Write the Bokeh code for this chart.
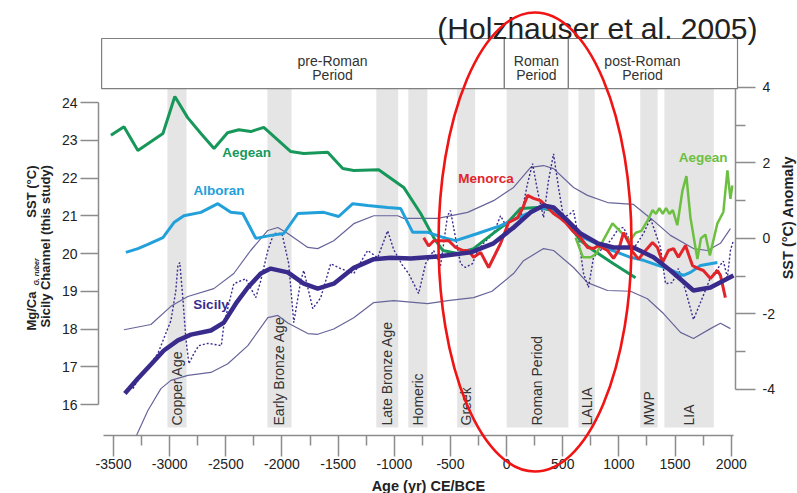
from bokeh.plotting import figure
from bokeh.models import Range1d, LinearAxis, FixedTicker
from bokeh.core.properties import value
from bokeh.embed import file_html
from bokeh.resources import INLINE

# ---------------- data ----------------
x_ticks = [-3500, -3000, -2500, -2000, -1500, -1000, -500, 0, 500, 1000, 1500, 2000]
x_minor = [-3250, -2750, -2250, -1750, -1250, -750, -250, 250, 750, 1250, 1750]
left_ticks = [16, 17, 18, 19, 20, 21, 22, 23, 24]
right_ticks = [-4, -2, 0, 2, 4]
right_minor = [-3, -1, 1, 3]
ANOM_OFFSET = 20.4  # SST anomaly 0 == 20.4 degC on the left scale

period_names = ["Copper Age", "Early Bronze Age", "Late Bronze Age", "Homeric", "Greek",
                "Roman Period", "LALIA", "MWP", "LIA"]
period_start = [-3020, -2130, -1160, -875, -440, 0, 640, 1190, 1405]
period_end = [-2850, -1915, -965, -705, -280, 550, 785, 1345, 1845]

era_names = [["pre-Roman", "Period"], ["Roman", "Period"], ["post-Roman", "Period"]]
era_edges = [-3606, -20, 550, 2056]
era_text_x = [-1550, 265, 1210]

aegean_x = [-3523, -3407, -3283, -3060, -2954, -2840, -2722, -2605, -2485, -2384, -2278, -2162,
            -1922, -1806, -1593, -1459, -1361, -1139, -916, -765, -649, -569, -436, -294, -143,
            9, 124, 276, 418, 543, 658, 774, 952, 1148]
aegean_t = [23.13, 23.36, 22.73, 23.18, 24.16, 23.60, 23.18, 22.78, 23.20, 23.28, 23.23, 23.34,
            22.70, 22.65, 22.68, 22.25, 22.20, 22.22, 21.75, 21.06, 20.42, 20.08, 20.00, 20.13, 20.48,
            20.82, 21.19, 21.22, 21.14, 20.80, 20.34, 20.08, 19.73, 19.36]

alboran_x = [-3390, -3283, -3194, -3060, -2962, -2874, -2722, -2571, -2456, -2349, -2233, -2100,
             -1984, -1859, -1628, -1495, -1370, -1237, -1059, -943, -836, -703, -560, -454, -258,
             -53, 187, 276, 400, 543, 685, 899, 1103, 1219, 1432, 1575, 1637, 1726, 1877]
alboran_t = [20.03, 20.13, 20.24, 20.42, 20.82, 21.00, 21.09, 21.32, 21.09, 21.06, 20.40, 20.48,
             20.53, 21.06, 21.09, 20.98, 21.32, 21.27, 21.22, 21.19, 20.56, 20.56, 20.42, 20.34, 20.53,
             20.74, 21.06, 21.20, 21.20, 20.85, 20.42, 20.13, 19.90, 19.82, 19.60, 19.42, 19.50, 19.68, 19.76]

menorca_x = [-738, -694, -649, -569, -516, -454, -392, -340, -294, -231, -160, -98, -53, 18, 98,
             142, 187, 240, 302, 365, 418, 480, 525, 587, 658, 720, 774, 818, 899, 952, 996, 1041,
             1085, 1121, 1174, 1237, 1299, 1343, 1388, 1441, 1486, 1530, 1593, 1655, 1708, 1752,
             1815, 1877, 1904, 1948]
menorca_t = [20.42, 20.20, 20.34, 20.34, 20.34, 20.16, 20.08, 20.08, 19.90, 20.03, 19.63, 20.00,
             20.27, 20.82, 20.95, 21.19, 21.54, 21.46, 21.40, 21.22, 21.06, 20.93, 20.82, 20.60,
             20.42, 20.16, 20.13, 20.21, 20.08, 19.87, 20.08, 20.55, 20.30, 20.05, 19.85, 20.08,
             20.29, 20.16, 19.76, 20.08, 20.13, 19.90, 20.21, 19.68, 19.60, 19.55, 19.34, 19.55,
             19.42, 18.83]

aegean2_x = [614, 680, 750, 800, 870, 943, 990, 1040, 1100, 1150, 1200, 1260, 1300, 1330, 1360,
             1390, 1420, 1450, 1480, 1520, 1566, 1601, 1637, 1699, 1730, 1770, 1810, 1877, 1930,
             1966, 1993, 2010]
aegean2_t = [20.42, 19.90, 19.90, 20.00, 20.40, 20.80, 20.65, 20.50, 20.35, 20.55, 20.60, 20.90,
             21.15, 21.05, 21.20, 21.05, 21.20, 21.05, 21.15, 20.75, 21.67, 22.05, 20.95, 19.85,
             20.40, 20.50, 19.95, 20.80, 21.10, 22.20, 21.45, 21.80]

sicily_x = [-3399, -3283, -3167, -3052, -2927, -2811, -2633, -2518, -2400, -2304, -2189, -2100,
            -1948, -1806, -1682, -1539, -1361, -1183, -1032, -854, -614, -320, -116, 62, 214, 329,
            418, 543, 658, 810, 952, 1130, 1308, 1459, 1664, 1815, 2020]
sicily_t = [16.29, 16.69, 17.06, 17.43, 17.70, 17.85, 17.96, 18.17, 18.72, 19.10, 19.47, 19.60,
            19.50, 19.20, 19.07, 19.20, 19.62, 19.85, 19.89, 19.87, 19.92, 20.03, 20.27, 20.69,
            21.09, 21.27, 21.22, 20.87, 20.53, 20.27, 20.16, 20.16, 19.90, 19.55, 19.02, 19.10, 19.42]

raw_x = [-3327, -3283, -3194, -3105, -3052, -2989, -2945, -2927, -2910, -2883, -2856, -2829,
         -2785, -2740, -2660, -2540, -2518, -2473, -2429, -2322, -2233, -2189, -2126, -2073,
         -2000, -1940, -1895, -1833, -1806, -1726, -1655, -1566, -1477, -1361, -1237, -1148,
         -1059, -1005, -930, -872, -783, -721, -650, -588, -526, -500, -455, -410, -366, -304,
         -259, -206, -117, -54, 8, 61, 124, 186, 231, 275, 329, 373, 418, 462, 507, 569, 596,
         640, 685, 729, 774, 836, 925, 996, 1041, 1085, 1121, 1219, 1281, 1370, 1415, 1477,
         1530, 1593, 1664, 1744, 1815, 1886, 1930, 1966, 1993, 2020]
raw_t = [16.42, 16.64, 16.98, 17.35, 17.75, 18.22, 19.02, 19.68, 19.76, 18.83, 17.75, 17.08,
         17.35, 17.56, 17.62, 17.56, 18.10, 18.67, 19.20, 19.33, 18.83, 19.28, 20.08, 20.53,
         20.53, 19.73, 18.17, 19.28, 19.55, 18.54, 18.83, 19.73, 19.60, 19.47, 20.08, 19.89,
         20.60, 20.10, 19.70, 19.47, 18.94, 19.73, 20.08, 19.68, 21.00, 21.14, 20.42, 19.73,
         19.63, 19.73, 20.08, 20.27, 20.53, 21.00, 20.66, 20.61, 20.93, 21.85, 22.38, 21.67,
         20.95, 21.93, 22.64, 21.75, 20.95, 21.06, 21.14, 20.42, 19.47, 19.10, 19.90, 20.08,
         20.34, 20.66, 20.69, 20.42, 20.08, 20.53, 20.93, 20.16, 19.20, 19.23, 19.60, 19.02,
         18.25, 18.83, 19.36, 19.63, 19.80, 19.36, 20.08, 20.35]

upper_x = [-3407, -3167, -2989, -2838, -2607, -2429, -2279, -2126, -2037, -1948, -1770, -1682,
           -1539, -1361, -1183, -970, -916, -614, -347, -116, 62, 214, 329, 418, 596, 720, 899,
           1130, 1308, 1459, 1664, 1788, 1904, 1993]
upper_t = [17.98, 18.12, 18.60, 18.86, 19.07, 19.47, 20.08, 20.61, 20.69, 20.53, 20.16, 20.13,
           20.34, 20.79, 21.00, 21.00, 20.93, 20.93, 21.09, 21.40, 21.75, 22.28, 22.33, 22.25,
           21.75, 21.54, 21.35, 21.30, 20.87, 20.48, 20.13, 20.08, 20.27, 20.66]

lower_x = [-3300, -3194, -3078, -2989, -2838, -2633, -2482, -2304, -2126, -2037, -1948, -1770,
           -1682, -1539, -1361, -1183, -1005, -703, -525, -294, -130, 62, 151, 329, 418, 596,
           720, 899, 1103, 1254, 1397, 1548, 1664, 1815, 1904, 1993]
lower_t = [15.15, 15.84, 16.42, 16.64, 16.77, 16.85, 17.08, 17.56, 18.30, 18.36, 18.16, 17.88,
           17.86, 18.00, 18.30, 18.70, 18.75, 18.67, 18.75, 18.83, 19.00, 19.47, 19.81, 20.13,
           20.08, 19.63, 19.23, 19.02, 19.00, 18.80, 18.41, 17.91, 17.75, 18.01, 18.15, 18.01]

series_labels = ["Aegean", "Alboran", "Sicily", "Menorca", "Aegean"]
series_label_x = [-2315, -2561, -2632, -183, 1749]
series_label_t = [22.68, 21.67, 18.65, 21.99, 22.54]

# ---------------- styling ----------------
FONT = value("Liberation Sans")
C_AEG = "#17985a"
C_ALB = "#22a0da"
C_SIC = "#392b8c"
C_MEN = "#e1252b"
C_AEG2 = "#6cc041"
C_BAND = "#67659a"
AX = "#8c8c8c"
label_colors = [C_AEG, C_ALB, C_SIC, C_MEN, C_AEG2]

X0, X1 = -3633.7, 2038.1
Y0, Y1 = 15.179, 26.702
BAND_BOTTOM, BAND_TOP = 15.39, 24.37
ERA_TOP = 25.695

p = figure(width=797, height=493, output_backend="svg", toolbar_location=None,
           x_range=Range1d(X0, X1), y_range=Range1d(Y0, Y1),
           min_border_left=98, min_border_right=62, min_border_top=0, min_border_bottom=58,
           title=None)
p.outline_line_color = None
p.xgrid.visible = False
p.ygrid.visible = False
p.background_fill_color = "white"

# bottom axis
xa = p.xaxis[0]
xa.ticker = FixedTicker(ticks=x_ticks, minor_ticks=x_minor)
xa.major_label_overrides = {t: str(t) for t in x_ticks}
xa.bounds = (-3589, 2020)
# left axis
ya = p.yaxis[0]
ya.ticker = FixedTicker(ticks=left_ticks)
ya.bounds = (16, 24)

p.extra_y_ranges = {"anom": Range1d(Y0 - ANOM_OFFSET, Y1 - ANOM_OFFSET)}
ra = LinearAxis(y_range_name="anom", ticker=FixedTicker(ticks=right_ticks, minor_ticks=right_minor),
                bounds=(-4, 4))
ra.major_label_overrides = {t: str(t) for t in right_ticks}
p.add_layout(ra, "right")

for ax in (xa, ya, ra):
    ax.axis_line_color = AX
    ax.axis_line_width = 1.5
    ax.major_tick_line_color = AX
    ax.major_tick_line_width = 1.5
    ax.minor_tick_line_color = AX
    ax.minor_tick_line_width = 1.5
    ax.major_tick_in = 0
    ax.minor_tick_in = 0
    ax.major_label_text_font = "Liberation Sans"
    ax.major_label_text_font_size = "14px"
    ax.major_label_text_color = "#222222"
xa.major_tick_out = 21
xa.minor_tick_out = 10
xa.major_label_standoff = 2
ya.major_tick_out = 18
ya.minor_tick_out = 0
ya.major_label_standoff = 3
ra.major_tick_out = 20
ra.minor_tick_out = 10
ra.major_label_standoff = 7

# period bands
p.quad(left=period_start, right=period_end, bottom=BAND_BOTTOM, top=BAND_TOP,
       fill_color="#e5e5e5", line_color=None)
p.text(x=[(a + b) / 2 for a, b in zip(period_start, period_end)], y=[15.444] * len(period_names),
       text=period_names, angle=1.5708, text_align="left", text_baseline="middle",
       text_font=FONT, text_font_size="14px", text_color="#333333")

# confidence envelope, raw record, series
p.line(upper_x, upper_t, line_color=C_BAND, line_width=1.2)
p.line(lower_x, lower_t, line_color=C_BAND, line_width=1.2)
p.line(raw_x, raw_t, line_color=C_SIC, line_width=1.4, line_dash="2 2")
p.line(aegean_x, aegean_t, line_color=C_AEG, line_width=3)
p.line(alboran_x, alboran_t, line_color=C_ALB, line_width=3)
p.line(aegean2_x, aegean2_t, line_color=C_AEG2, line_width=2.5)
p.line(menorca_x, menorca_t, line_color=C_MEN, line_width=3)
p.line(sicily_x, sicily_t, line_color=C_SIC, line_width=4.5)

p.text(x=series_label_x, y=series_label_t, text=series_labels, text_color=label_colors,
       text_align="center", text_baseline="middle", text_font=FONT, text_font_size="13.5px",
       text_font_style="bold")

# era header
p.quad(left=era_edges[:-1], right=era_edges[1:], bottom=BAND_TOP, top=ERA_TOP,
       fill_color="white", line_color="#7f7f7f", line_width=1.2, level="overlay")
p.text(x=era_text_x, y=[25.11] * 3, text=[e[0] for e in era_names], text_align="center",
       text_baseline="middle", text_font=FONT, text_font_size="14px", text_color="#333333",
       level="overlay")
p.text(x=era_text_x, y=[24.72] * 3, text=[e[1] for e in era_names], text_align="center",
       text_baseline="middle", text_font=FONT, text_font_size="14px", text_color="#333333",
       level="overlay")

# source note at top
p.text(x=[809], y=[25.96], text=["(Holzhauser et al. 2005)"], text_align="center",
       text_baseline="alphabetic", text_font=FONT, text_font_size="30px", text_color="#222222",
       level="overlay")

# axis titles
p.text(x=[-696], y=[13.854], text=["Age (yr) CE/BCE"], text_align="center", text_baseline="middle",
       text_font=FONT, text_font_size="14.5px", text_font_style="bold", text_color="#222222",
       level="overlay")
p.text(x=[-4106], y=[20.19], text=["Sicily Channel (this study)"], angle=1.5708,
       text_align="center", text_baseline="middle", text_font=FONT, text_font_size="13px",
       text_font_style="bold", text_color="#222222", level="overlay")
p.text(x=[-4230], y=[17.96], text=["Mg/Ca"], angle=1.5708, text_align="left",
       text_baseline="middle", text_font=FONT, text_font_size="13px",
       text_font_style="bold", text_color="#222222", level="overlay")
p.text(x=[-4190], y=[19.15], text=["G. ruber"], angle=1.5708, text_align="left",
       text_baseline="middle", text_font=FONT, text_font_size="7px",
       text_font_style="bold italic", text_color="#222222", level="overlay")
p.text(x=[-4230], y=[20.95], text=["SST (°C)"], angle=1.5708, text_align="left",
       text_baseline="middle", text_font=FONT, text_font_size="13px",
       text_font_style="bold", text_color="#222222", level="overlay")
p.text(x=[2508], y=[20.95], text=["SST (°C) Anomaly"], angle=1.5708, text_align="center",
       text_baseline="middle", text_font=FONT, text_font_size="14.5px",
       text_font_style="bold", text_color="#222222", level="overlay")

# red highlight ellipse around the Roman period
p.ellipse(x=[253], y=[20.305], width=[1718], height=[12.16], fill_color=None,
          line_color="#f01414", line_width=2.6, level="overlay")

open("out.html", "w").write(file_html(p, INLINE))
